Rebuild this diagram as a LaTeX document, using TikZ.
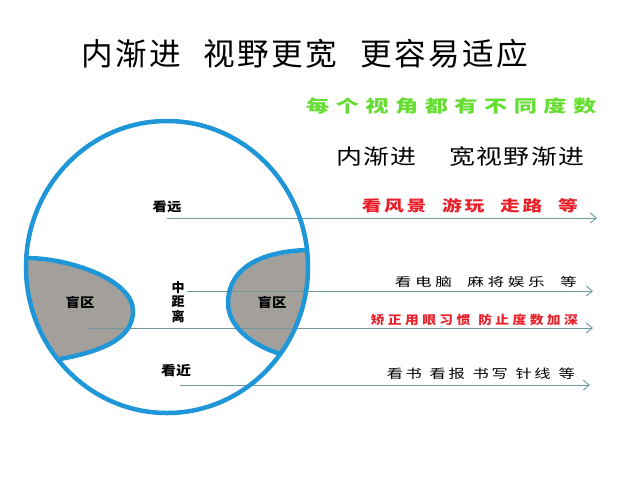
\documentclass[tikz,border=0pt]{standalone}
\usepackage{fontspec}
\usepackage{graphicx}
\setmainfont{Noto Sans CJK SC}
\usetikzlibrary{arrows.meta}
\definecolor{lensblue}{RGB}{30,150,215}
\definecolor{blindgray}{RGB}{163,159,155}
\definecolor{linec}{RGB}{110,154,158}
\definecolor{redtxt}{RGB}{232,32,42}
\definecolor{greentxt}{RGB}{102,221,51}
\newcommand\myfs[1]{\fontsize{#1pt}{#1pt}\selectfont}
\newcommand\fitw[2]{\resizebox{#1}{\height}{#2}}
\tikzset{
  flow/.style={draw=linec, line width=0.9pt, -{Straight Barb[length=6pt,width=10pt,line width=0.9pt]}},
  lbl/.style={inner sep=0pt, text=black},
  lens/.style={draw=lensblue, line width=4.5pt},
}
\begin{document}
\begin{tikzpicture}[x=1pt,y=-1pt]
\fill[white] (0,0) rectangle (620,496);
\useasboundingbox (0,0) rectangle (620,496);
% blind zones
\begin{scope}
  \clip (167,267) ellipse [x radius=141, y radius=146];
  \fill[blindgray] (26,258) .. controls (70,258) and (133,280) .. (133,311)
     .. controls (133,335) and (110,350) .. (60,359) -- (0,420) -- (0,230) -- cycle;
  \fill[blindgray] (307,250) .. controls (250,252) and (228,275) .. (228,303)
     .. controls (228,325) and (250,345) .. (281,354) -- (340,420) -- (340,230) -- cycle;
\end{scope}
% connectors
\coordinate (s1) at (167,218); \coordinate (e1) at (597,218);
\coordinate (s2) at (187,291); \coordinate (e2) at (593,291);
\coordinate (s3) at (87,328);  \coordinate (e3) at (593,328);
\coordinate (s4) at (180,385); \coordinate (e4) at (590,385);
\draw[flow] (s1) -- (e1);
\draw[flow] (s2) -- (e2);
\draw[flow] (s3) -- (e3);
\draw[flow] (s4) -- (e4);
% lens outline
\draw[lens] (26,258) .. controls (70,258) and (133,280) .. (133,311)
     .. controls (133,335) and (110,350) .. (60,359);
\draw[lens] (307,250) .. controls (250,252) and (228,275) .. (228,303)
     .. controls (228,325) and (250,345) .. (281,354);
\draw[lens] (167,267) ellipse [x radius=141, y radius=146];
% texts
\node[lbl, anchor=west] (title) at (81,54)
  {\fitw{447pt}{\myfs{31}\addfontfeature{LetterSpace=8}内渐进\hspace{22pt}视野更宽\hspace{22pt}更容易适应}};
\node[lbl, anchor=west, text=greentxt] (sub) at (306,106)
  {\fitw{290pt}{\myfs{17}\bfseries\addfontfeature{LetterSpace=28}每个视角都有不同度数}};
\node[lbl, anchor=west] (head) at (336,157)
  {\fitw{248pt}{\myfs{21}\addfontfeature{LetterSpace=5}内渐进\hspace{27pt}宽视野渐进}};
\node[lbl] (far) at (167,207) {\scalebox{1.15}[1]{\myfs{12.5}\bfseries 看远}};
\node[lbl, align=center, font={\fontsize{13pt}{14.5pt}\selectfont\bfseries}] (mid) at (178,302)
  {中\\距\\离};
\node[lbl] (near) at (176,371) {\scalebox{1.15}[1]{\myfs{13}\bfseries 看近}};
\node[lbl] (bl) at (80,302) {\scalebox{1.1}[1]{\myfs{13}\bfseries 盲区}};
\node[lbl] (br) at (272,302) {\scalebox{1.1}[1]{\myfs{13}\bfseries 盲区}};
\node[lbl, anchor=east, text=redtxt] (r1) at (578,206)
  {\fitw{216pt}{\myfs{15}\bfseries\addfontfeature{LetterSpace=14}看风景\hspace{12pt}游玩\hspace{12pt}走路\hspace{12pt}等}};
\node[lbl, anchor=east] (r2) at (577,282)
  {\fitw{182pt}{\myfs{12}\addfontfeature{LetterSpace=22}看电脑\hspace{11pt}麻将娱乐\hspace{11pt}等}};
\node[lbl, anchor=east, text=redtxt] (r3) at (578,320)
  {\fitw{207pt}{\myfs{12}\bfseries\addfontfeature{LetterSpace=25}矫正用眼习惯\hspace{7pt}防止度数加深}};
\node[lbl, anchor=east] (r4) at (575,374)
  {\fitw{188pt}{\myfs{12.5}\addfontfeature{LetterSpace=16}看书\hspace{6pt}看报\hspace{6pt}书写\hspace{6pt}针线\hspace{6pt}等}};
\end{tikzpicture}
\end{document}
